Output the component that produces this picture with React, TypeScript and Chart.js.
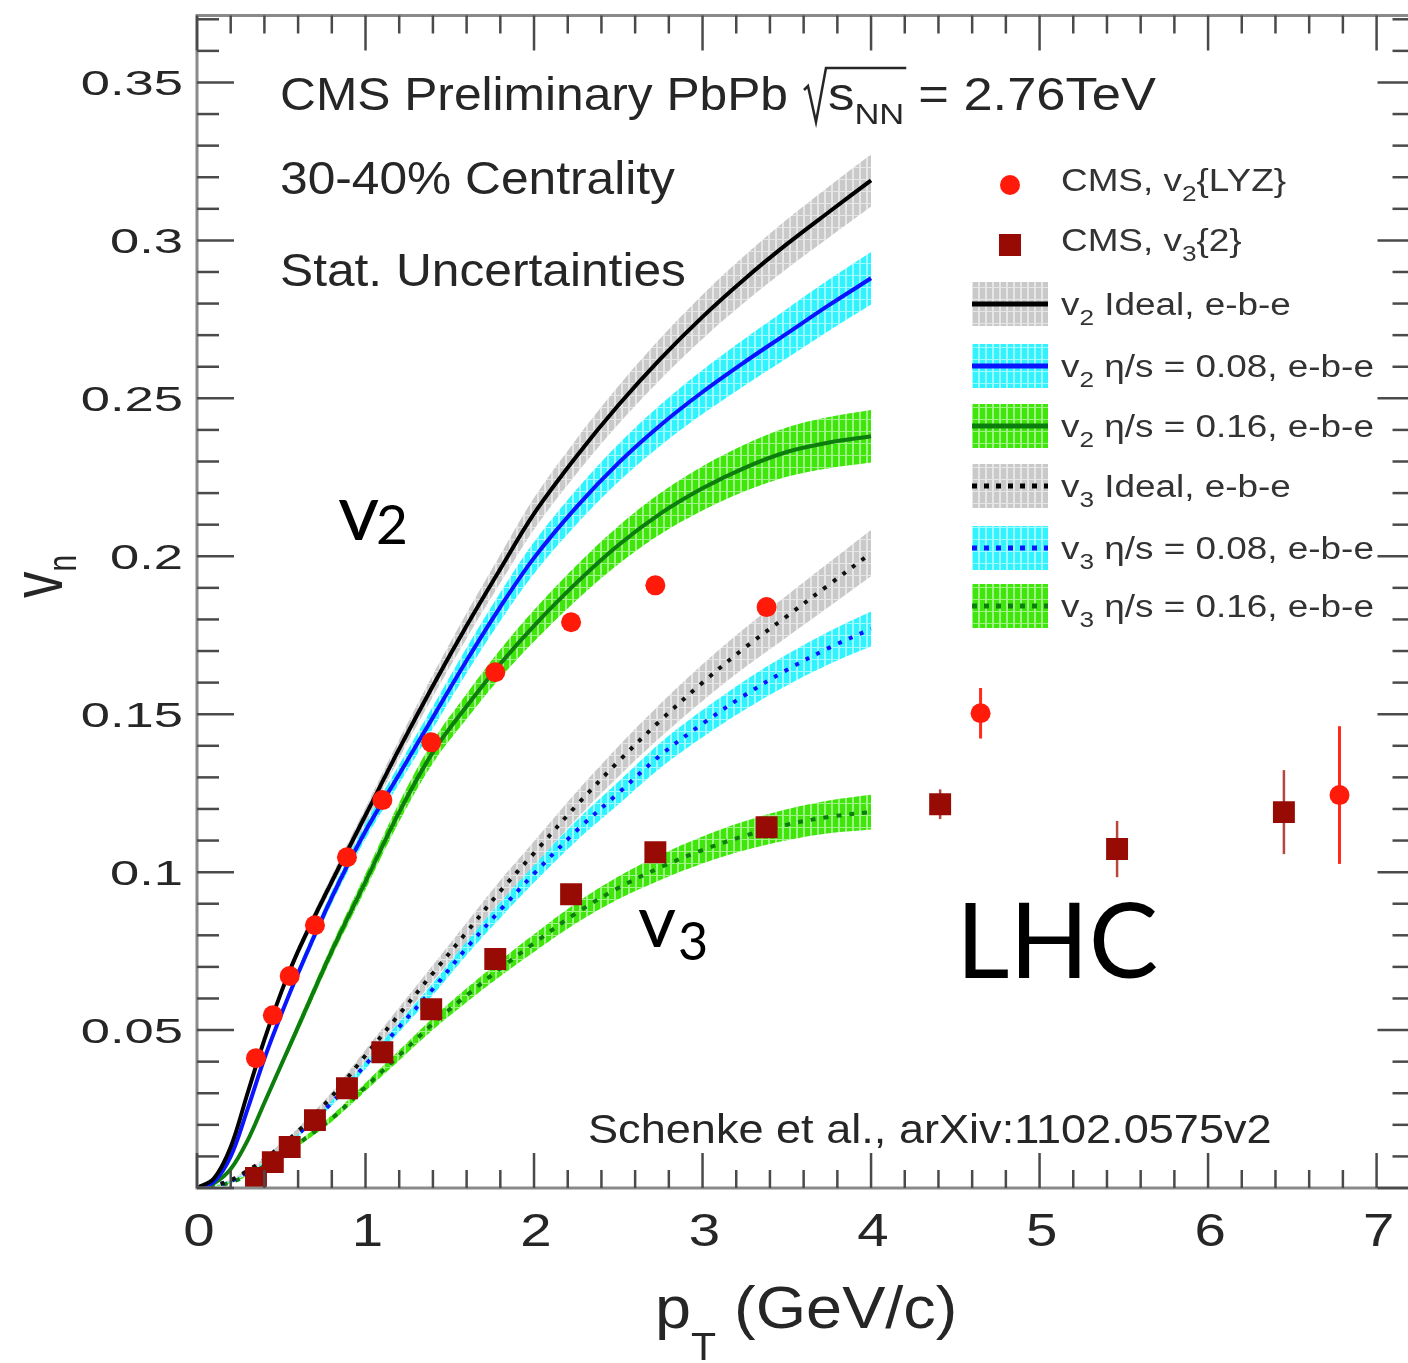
import React, { useEffect, useRef } from 'react';
import { Chart, registerables } from 'chart.js';

Chart.register(...registerables);

// ---------------- data ----------------
const ptGrid = [0, 0.1, 0.2, 0.3, 0.4, 0.5, 0.6, 0.8, 1.0, 1.2, 1.4, 1.6, 1.8, 2.0, 2.25, 2.5, 2.75, 3.0, 3.25, 3.5, 3.75, 4.0];

const v2Ideal = [0, 0.003, 0.013, 0.030, 0.047, 0.062, 0.075, 0.097, 0.118, 0.139, 0.159, 0.178, 0.196, 0.2135, 0.2315, 0.2478, 0.2625, 0.2758, 0.2878, 0.2988, 0.309, 0.319];
const v2Eta008 = [0, 0.002, 0.010, 0.025, 0.041, 0.055, 0.068, 0.092, 0.113, 0.131, 0.149, 0.167, 0.184, 0.1995, 0.2155, 0.2295, 0.2415, 0.252, 0.2615, 0.2705, 0.2795, 0.288];
const v2Eta016 = [0, 0.0015, 0.006, 0.015, 0.027, 0.039, 0.051, 0.075, 0.097, 0.119, 0.138, 0.1525, 0.166, 0.178, 0.1915, 0.2035, 0.2135, 0.2215, 0.228, 0.233, 0.236, 0.238];
const v3Ideal = [0, 0.0008, 0.0025, 0.0055, 0.009, 0.0135, 0.018, 0.029, 0.042, 0.055, 0.068, 0.081, 0.094, 0.106, 0.121, 0.135, 0.148, 0.160, 0.171, 0.181, 0.191, 0.201];
const v3Eta008 = [0, 0.0008, 0.0022, 0.005, 0.0085, 0.0125, 0.017, 0.027, 0.039, 0.051, 0.063, 0.076, 0.088, 0.0995, 0.113, 0.125, 0.137, 0.147, 0.156, 0.164, 0.171, 0.177];
const v3Eta016 = [0, 0.0005, 0.0018, 0.004, 0.007, 0.010, 0.014, 0.022, 0.032, 0.042, 0.052, 0.061, 0.0695, 0.0775, 0.087, 0.095, 0.1015, 0.107, 0.1115, 0.115, 0.1175, 0.119];

// statistical band half-widths
const errV2 = [0, 0.0002, 0.0005, 0.0008, 0.001, 0.0013, 0.0016, 0.002, 0.0025, 0.003, 0.0035, 0.004, 0.0045, 0.005, 0.0055, 0.006, 0.0065, 0.007, 0.0074, 0.0078, 0.0081, 0.0083];
const errV3Ideal = [0, 0.0001, 0.0002, 0.0004, 0.0006, 0.0008, 0.001, 0.0014, 0.0018, 0.0022, 0.0026, 0.003, 0.0034, 0.0038, 0.0043, 0.0048, 0.0053, 0.0058, 0.0062, 0.0066, 0.007, 0.0073];
const errV3Visc = [0, 0.0001, 0.0002, 0.0003, 0.0005, 0.0006, 0.0008, 0.001, 0.0013, 0.0016, 0.0019, 0.0022, 0.0025, 0.0028, 0.0032, 0.0036, 0.004, 0.0043, 0.0046, 0.0049, 0.0052, 0.0055];

// CMS data
const cmsV2Pt = [0.35, 0.45, 0.55, 0.70, 0.89, 1.10, 1.39, 1.77, 2.22, 2.72, 3.38, 4.65, 6.78];
const cmsV2 = [0.0411, 0.0547, 0.0671, 0.0832, 0.1047, 0.1228, 0.1411, 0.1633, 0.1791, 0.1908, 0.1839, 0.1503, 0.1244];
const cmsV2Err = [0, 0, 0, 0, 0, 0, 0, 0, 0, 0, 0, 0.008, 0.0218];

const cmsV3Pt = [0.35, 0.45, 0.55, 0.70, 0.89, 1.10, 1.39, 1.77, 2.22, 2.72, 3.38, 4.41, 5.46, 6.45];
const cmsV3 = [0.0032, 0.0082, 0.0130, 0.0215, 0.0316, 0.0430, 0.0566, 0.0725, 0.0930, 0.1063, 0.1142, 0.1215, 0.1073, 0.1190];
const cmsV3Err = [0, 0, 0, 0, 0, 0, 0, 0, 0, 0, 0, 0.0047, 0.0089, 0.0133];

// axes
const xMin = 0, xMax = 7.225;
const yMin = 0, yMax = 0.3712;
const xTickValues = [0, 1, 2, 3, 4, 5, 6, 7];
const xTickLabels = ['0', '1', '2', '3', '4', '5', '6', '7'];
const yTickValues = [0.05, 0.1, 0.15, 0.2, 0.25, 0.3, 0.35];
const yTickLabels = ['0.05', '0.1', '0.15', '0.2', '0.25', '0.3', '0.35'];
const xMinorStep = 0.2;
const yMinorStep = 0.01;

// ---------------- helpers ----------------
type Part = [string, 'n' | 'sub'];
const ROOTFONT = '"Liberation Sans", Arial, sans-serif';

function drawParts(ctx: CanvasRenderingContext2D, x: number, y: number, parts: Part[], o: any) {
  ctx.save();
  ctx.translate(x, y);
  ctx.scale(o.sx ?? 1, 1);
  ctx.fillStyle = o.color ?? '#262626';
  ctx.textBaseline = 'alphabetic';
  ctx.textAlign = 'left';
  const fam = o.family ?? ROOTFONT;
  const fontN = `${o.size}px ${fam}`;
  const subSize = o.subSize ?? o.size * 0.68;
  const fontS = `${subSize}px ${fam}`;
  let total = 0;
  for (const [t, k] of parts) {
    ctx.font = k === 'n' ? fontN : fontS;
    total += ctx.measureText(t).width;
  }
  let cx = 0;
  if (o.align === 'right') cx = -total;
  else if (o.align === 'center') cx = -total / 2;
  for (const [t, k] of parts) {
    ctx.font = k === 'n' ? fontN : fontS;
    const dy = k === 'sub' ? (o.subDrop ?? o.size * 0.3) : 0;
    ctx.fillText(t, cx, dy);
    cx += ctx.measureText(t).width;
  }
  ctx.restore();
  return total * (o.sx ?? 1);
}

function makePattern(base: string, stripe: string) {
  const c = document.createElement('canvas');
  c.width = 7;
  c.height = 12;
  const g = c.getContext('2d')!;
  g.fillStyle = base;
  g.fillRect(0, 0, 7, 12);
  g.fillStyle = stripe;
  g.fillRect(5, 0, 2, 12);
  g.fillRect(0, 11, 5, 1);
  return g.createPattern(c, 'repeat')!;
}

const GRAY = '#c9c9c9', GRAY_L = '#e6e6e6';
const CYAN = '#2ff4ff', CYAN_L = '#9ffaff';
const LIME = '#3fe60a', LIME_L = '#9ff286';

const legendRows = [
  { y: 180, kind: 'circle', parts: [['CMS, v', 'n'], ['2', 'sub'], ['{LYZ}', 'n']] },
  { y: 240, kind: 'square', parts: [['CMS, v', 'n'], ['3', 'sub'], ['{2}', 'n']] },
  { y: 304, kind: 'band', fill: [GRAY, GRAY_L], line: '#000000', dash: [], parts: [['v', 'n'], ['2', 'sub'], [' Ideal, e-b-e', 'n']] },
  { y: 366, kind: 'band', fill: [CYAN, CYAN_L], line: '#0a14ff', dash: [], parts: [['v', 'n'], ['2', 'sub'], [' \u03b7/s = 0.08, e-b-e', 'n']] },
  { y: 426, kind: 'band', fill: [LIME, LIME_L], line: '#0d7d0d', dash: [], parts: [['v', 'n'], ['2', 'sub'], [' \u03b7/s = 0.16, e-b-e', 'n']] },
  { y: 486, kind: 'band', fill: [GRAY, GRAY_L], line: '#000000', dash: [5, 7], parts: [['v', 'n'], ['3', 'sub'], [' Ideal, e-b-e', 'n']] },
  { y: 548, kind: 'band', fill: [CYAN, CYAN_L], line: '#0a14ff', dash: [5, 7], parts: [['v', 'n'], ['3', 'sub'], [' \u03b7/s = 0.08, e-b-e', 'n']] },
  { y: 606, kind: 'band', fill: [LIME, LIME_L], line: '#0d7d0d', dash: [5, 7], parts: [['v', 'n'], ['3', 'sub'], [' \u03b7/s = 0.16, e-b-e', 'n']] },
];

const decorPlugin = {
  id: 'rootDecor',
  beforeDatasetDraw(chart: any, args: any) {
    const ds = chart.data.datasets[args.index];
    if (!ds.errBars) return;
    const { ctx } = chart;
    const xs = chart.scales.x, ys = chart.scales.y;
    ctx.save();
    ctx.strokeStyle = ds.errColor;
    ctx.lineWidth = ds.errWidth;
    ds.data.forEach((p: any, i: number) => {
      const e = ds.errBars[i];
      if (!e) return;
      const px = xs.getPixelForValue(p.x);
      ctx.beginPath();
      ctx.moveTo(px, ys.getPixelForValue(p.y - e));
      ctx.lineTo(px, ys.getPixelForValue(p.y + e));
      ctx.stroke();
    });
    ctx.restore();
  },
  afterDraw(chart: any) {
    const { ctx, chartArea: a } = chart;
    const xs = chart.scales.x, ys = chart.scales.y;
    ctx.save();
    // frame
    ctx.strokeStyle = '#8a8a8a';
    ctx.lineWidth = 3;
    ctx.strokeRect(a.left, a.top, a.right - a.left, a.bottom - a.top);
    // ticks
    ctx.strokeStyle = '#4a4a4a';
    ctx.lineWidth = 2.5;
    const line = (x1: number, y1: number, x2: number, y2: number) => {
      ctx.beginPath(); ctx.moveTo(x1, y1); ctx.lineTo(x2, y2); ctx.stroke();
    };
    for (let v = xMin; v <= xMax + 1e-9; v += xMinorStep) {
      const r = Math.round(v * 1000) / 1000;
      const major = Math.abs(r - Math.round(r)) < 1e-6;
      const len = major ? 35 : 18;
      const px = xs.getPixelForValue(r);
      line(px, a.bottom, px, a.bottom - len);
      line(px, a.top, px, a.top + len);
    }
    for (let v = yMin; v <= yMax + 1e-9; v += yMinorStep) {
      const r = Math.round(v * 1000) / 1000;
      const major = Math.abs(r * 20 - Math.round(r * 20)) < 1e-6;
      const len = major ? 37 : 22;
      const py = ys.getPixelForValue(r);
      line(a.left, py, a.left + len, py);
      line(a.right, py, a.right - len, py);
    }
    // tick labels
    xTickValues.forEach((v, i) => {
      drawParts(ctx, xs.getPixelForValue(v) + 2, 1246, [[xTickLabels[i], 'n']], { size: 47, sx: 1.2, align: 'center', color: '#262626' });
    });
    yTickValues.forEach((v, i) => {
      drawParts(ctx, 183, ys.getPixelForValue(v) + 12.5, [[yTickLabels[i], 'n']], { size: 35, sx: 1.5, align: 'right', color: '#262626' });
    });
    // x title
    drawParts(ctx, 655, 1328, [['p', 'n'], ['T', 'sub'], [' (GeV/c)', 'n']], { size: 60, sx: 1.08, subSize: 38, subDrop: 32, color: '#262626' });
    // y title (rotated)
    ctx.save();
    ctx.translate(62, 598);
    ctx.scale(1.35, 1);
    ctx.rotate(-Math.PI / 2);
    ctx.fillStyle = '#262626';
    ctx.font = `53px ${ROOTFONT}`;
    ctx.textBaseline = 'alphabetic';
    ctx.fillText('v', 0, 0);
    const vw = ctx.measureText('v').width;
    ctx.font = `30px ${ROOTFONT}`;
    ctx.fillText('n', vw, 10);
    ctx.restore();

    // header texts
    const hx = 280, hb = 110, hs = 46, hsx = 1.08;
    const w1 = drawParts(ctx, hx, hb, [['CMS Preliminary PbPb', 'n']], { size: hs, sx: hsx });
    const rx = hx + w1 + 16;
    const w2 = drawParts(ctx, rx + 24, hb, [['s', 'n'], ['NN', 'sub']], { size: hs, sx: 1.15, subSize: 30, subDrop: 14 });
    ctx.strokeStyle = '#262626';
    ctx.lineWidth = 2.5;
    ctx.beginPath();
    ctx.moveTo(rx, hb - 20);
    ctx.lineTo(rx + 4, hb - 24);
    ctx.lineTo(rx + 12, hb + 12);
    ctx.lineTo(rx + 22, hb - 42);
    ctx.lineTo(rx + 24 + w2 + 2, hb - 42);
    ctx.stroke();
    drawParts(ctx, rx + 24 + w2 + 14, hb, [['= 2.76TeV', 'n']], { size: hs, sx: 1.14 });
    drawParts(ctx, 280, 194, [['30-40% Centrality', 'n']], { size: hs, sx: hsx });
    drawParts(ctx, 280, 286, [['Stat. Uncertainties', 'n']], { size: hs, sx: hsx });
    drawParts(ctx, 588, 1143, [['Schenke et al., arXiv:1102.0575v2', 'n']], { size: 41, sx: 1.1 });

    // legend
    legendRows.forEach((r: any) => {
      if (r.kind === 'circle') {
        ctx.fillStyle = '#ff1a0a';
        ctx.beginPath(); ctx.arc(1010, r.y + 5, 10, 0, Math.PI * 2); ctx.fill();
      } else if (r.kind === 'square') {
        ctx.fillStyle = '#980a04';
        ctx.fillRect(999, r.y - 6, 22, 22);
      } else {
        ctx.fillStyle = makePattern(r.fill[0], r.fill[1]);
        ctx.fillRect(972, r.y - 22, 76, 44);
        ctx.strokeStyle = r.line;
        ctx.lineWidth = 5;
        ctx.setLineDash(r.dash);
        ctx.beginPath(); ctx.moveTo(972, r.y); ctx.lineTo(1048, r.y); ctx.stroke();
        ctx.setLineDash([]);
      }
      drawParts(ctx, 1061, r.y + 11, r.parts, { size: 31, sx: 1.19, subSize: 22, subDrop: 10, color: '#333333' });
    });

    // big annotations
    const LATO = 'Lato, "Open Sans", sans-serif';
    drawParts(ctx, 338, 540, [['v', 'n']], { size: 80, family: LATO, color: '#000' });
    drawParts(ctx, 376, 544, [['2', 'n']], { size: 55, family: LATO, color: '#000' });
    drawParts(ctx, 638, 947, [['v', 'n']], { size: 74, family: LATO, color: '#000' });
    drawParts(ctx, 678, 960, [['3', 'n']], { size: 52, family: LATO, color: '#000' });
    drawParts(ctx, 956, 978, [['LHC', 'n']], { size: 104, family: LATO, color: '#000' });
    ctx.restore();
  },
};

export default function App() {
  const ref = useRef<HTMLCanvasElement | null>(null);
  useEffect(() => {
    const canvas = ref.current!;
    const pts = (ys: number[]) => ptGrid.map((x, i) => ({ x, y: ys[i] }));
    const up = (c: number[], e: number[]) => ptGrid.map((x, i) => ({ x, y: c[i] + e[i] }));
    const lo = (c: number[], e: number[]) => ptGrid.map((x, i) => ({ x, y: c[i] - e[i] }));

    const bands = [
      { c: v2Ideal, e: errV2, fill: makePattern(GRAY, GRAY_L), line: '#000000', dash: [] as number[] },
      { c: v2Eta008, e: errV2, fill: makePattern(CYAN, CYAN_L), line: '#0a14ff', dash: [] },
      { c: v2Eta016, e: errV2, fill: makePattern(LIME, LIME_L), line: '#0d7d0d', dash: [] },
      { c: v3Ideal, e: errV3Ideal, fill: makePattern(GRAY, GRAY_L), line: '#111111', dash: [4, 8] },
      { c: v3Eta008, e: errV3Visc, fill: makePattern(CYAN, CYAN_L), line: '#0a14ff', dash: [4, 8] },
      { c: v3Eta016, e: errV3Visc, fill: makePattern(LIME, LIME_L), line: '#0d7d0d', dash: [5, 8] },
    ];
    const datasets: any[] = [];
    datasets.push({
      label: 'CMS v2{LYZ}',
      data: cmsV2Pt.map((x, i) => ({ x, y: cmsV2[i] })),
      errBars: cmsV2Err, errColor: '#ff2a1a', errWidth: 3,
      showLine: false, pointStyle: 'circle', pointRadius: 10,
      pointBackgroundColor: '#ff1a0a', pointBorderWidth: 0, order: 0,
    });
    datasets.push({
      label: 'CMS v3{2}',
      data: cmsV3Pt.map((x, i) => ({ x, y: cmsV3[i] })),
      errBars: cmsV3Err, errColor: '#b8463f', errWidth: 2.5,
      showLine: false, pointStyle: 'rect', pointRadius: 15.5,
      pointBackgroundColor: '#980a04', pointBorderWidth: 0, order: 0,
    });
    bands.forEach((b, k) => {
      datasets.push({
        label: 'line' + k, data: pts(b.c), borderColor: b.line, borderWidth: 4,
        borderDash: b.dash, pointRadius: 0, fill: false, tension: 0.35, order: 1,
      });
    });
    bands.forEach((b, k) => {
      datasets.push({
        label: 'up' + k, data: up(b.c, b.e), borderWidth: 0, borderColor: 'rgba(0,0,0,0)',
        backgroundColor: b.fill, fill: '+1', pointRadius: 0, tension: 0.35, order: 2,
      });
      datasets.push({
        label: 'lo' + k, data: lo(b.c, b.e), borderWidth: 0, borderColor: 'rgba(0,0,0,0)',
        fill: false, pointRadius: 0, tension: 0.35, order: 2,
      });
    });

    const chart = new Chart(canvas, {
      type: 'line',
      data: { datasets },
      options: {
        responsive: false,
        animation: false,
        layout: { padding: { left: 197, top: 15, right: 1430 - 1418, bottom: 1363 - 1188 } },
        scales: {
          x: { type: 'linear', min: xMin, max: xMax, display: false },
          y: { type: 'linear', min: yMin, max: yMax, display: false },
        },
        plugins: { legend: { display: false }, tooltip: { enabled: false } },
      },
      plugins: [decorPlugin],
    } as any);
    return () => chart.destroy();
  }, []);

  return (
    <div style={{ position: 'fixed', left: 0, top: 0, width: 1408, height: 1363, overflow: 'hidden', background: '#fff' }}>
      <canvas ref={ref} width={1430} height={1363} style={{ display: 'block' }} />
    </div>
  );
}
